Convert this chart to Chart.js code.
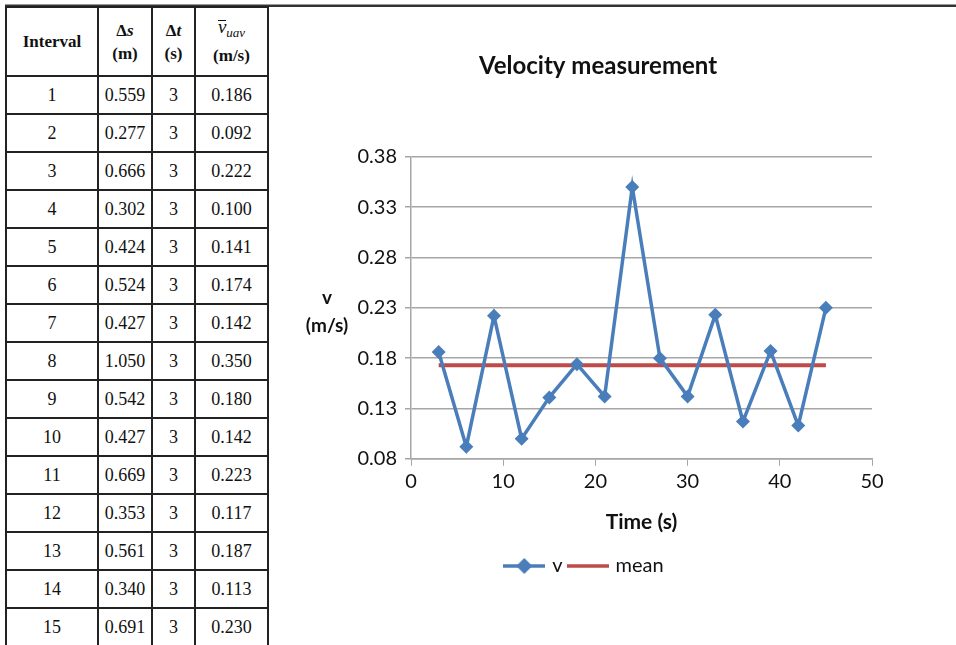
<!DOCTYPE html>
<html lang="en">
<head>
    <meta charset="utf-8">
    <title>Velocity measurement</title>
    <script src="https://cdn.jsdelivr.net/npm/chart.js@4.4.0/dist/chart.umd.min.js"></script>
    <style>
        body { margin: 0; background: #fff; width: 956px; height: 645px; overflow: hidden; position: relative; }
        #frame { position: absolute; left: 5px; top: 4px; width: 951px; height: 2px; background: #333; border-top: 1px solid #999; }
        table { position: absolute; left: 5px; top: 6px; border-collapse: collapse; font-family: "Liberation Serif", "Times New Roman", serif; }
        td, th { border: 2px solid #222; text-align: center; padding: 0; font-size: 18px; color: #111; }
        th { height: 67px; font-size: 17px; line-height: 23px; }
        td { height: 36px; }
        .c1 { width: 90px; } .c2 { width: 52px; } .c3 { width: 41px; } .c4 { width: 71px; }
        .bar { display: inline-block; border-top: 1.5px solid #111; line-height: 11px; font-size: 19px; font-style: italic; font-weight: normal; }
        sub { font-size: 13px; font-weight: normal; }
        #wrap { position: absolute; left: 270px; top: 8px; width: 660px; height: 630px; }
    </style>
</head>
<body>
    <div id="frame"></div>
    <table id="tbl">
        <tr>
            <th class="c1">Interval</th>
            <th class="c2">&Delta;<i>s</i><br>(m)</th>
            <th class="c3">&Delta;<i>t</i><br>(s)</th>
            <th class="c4"><span class="bar">v</span><sub><i>uav</i></sub><br>(m/s)</th>
        </tr>
    </table>
    <div id="wrap"><canvas id="chart" width="660" height="630"></canvas></div>
    <script>
        // table values
        const intervals = [1, 2, 3, 4, 5, 6, 7, 8, 9, 10, 11, 12, 13, 14, 15];
        const deltaS = ['0.559', '0.277', '0.666', '0.302', '0.424', '0.524', '0.427', '1.050', '0.542', '0.427', '0.669', '0.353', '0.561', '0.340', '0.691'];
        const deltaT = [3, 3, 3, 3, 3, 3, 3, 3, 3, 3, 3, 3, 3, 3, 3];
        const vAvg = ['0.186', '0.092', '0.222', '0.100', '0.141', '0.174', '0.142', '0.350', '0.180', '0.142', '0.223', '0.117', '0.187', '0.113', '0.230'];

        // chart values
        const times = [3, 6, 9, 12, 15, 18, 21, 24, 27, 30, 33, 36, 39, 42, 45];
        const velocities = [0.186, 0.092, 0.222, 0.100, 0.141, 0.174, 0.142, 0.350, 0.180, 0.142, 0.223, 0.117, 0.187, 0.113, 0.230];
        const meanTimes = [3, 45];
        const meanValues = [0.173, 0.173];

        const tbl = document.getElementById('tbl');
        for (let i = 0; i < intervals.length; i++) {
            const tr = document.createElement('tr');
            [intervals[i], deltaS[i], deltaT[i], vAvg[i]].forEach(function (v) {
                const td = document.createElement('td');
                td.textContent = v;
                tr.appendChild(td);
            });
            tbl.appendChild(tr);
        }

        const blue = '#4a7ebb';
        const red = '#be4b48';
        const font = 'Lato, "Open Sans", sans-serif';

        // legend symbols: line with diamond, plain line
        function legendIcon(color, diamond) {
            const c = document.createElement('canvas');
            c.width = 42; c.height = 16;
            const g = c.getContext('2d');
            g.strokeStyle = color; g.lineWidth = 3.5;
            g.beginPath(); g.moveTo(0, 8); g.lineTo(42, 8); g.stroke();
            if (diamond) {
                g.fillStyle = color;
                g.beginPath(); g.moveTo(21, 0); g.lineTo(29, 8); g.lineTo(21, 16); g.lineTo(13, 8); g.closePath(); g.fill();
            }
            return c;
        }
        const iconV = legendIcon(blue, true);
        const iconMean = legendIcon(red, false);

        const yTitle = {
            id: 'yTitle',
            afterLayout(chart) {
                // legend sits a bit left of the title in the original
                chart.legend.left -= 13;
                chart.legend.right -= 13;
            },
            afterDraw(chart) {
                const ctx = chart.ctx;
                ctx.save();
                ctx.font = 'bold 19px ' + font;
                ctx.fillStyle = '#111';
                ctx.textAlign = 'center';
                ctx.textBaseline = 'middle';
                ctx.fillText('v', 57, 290);
                ctx.fillText('(m/s)', 57, 318);
                ctx.restore();
            }
        };

        const ctx = document.getElementById('chart').getContext('2d');
        const myChart = new Chart(ctx, {
            type: 'line',
            data: {
                datasets: [{
                    label: 'v',
                    data: times.map((t, i) => ({ x: t, y: velocities[i] })),
                    borderColor: blue,
                    backgroundColor: blue,
                    borderWidth: 3.5,
                    pointStyle: 'rectRot',
                    pointRadius: 7,
                    pointBorderWidth: 0,
                    tension: 0
                }, {
                    label: 'mean',
                    data: meanTimes.map((t, i) => ({ x: t, y: meanValues[i] })),
                    borderColor: red,
                    backgroundColor: red,
                    borderWidth: 4,
                    pointRadius: 0,
                    tension: 0
                }]
            },
            options: {
                responsive: false,
                animation: false,
                layout: { padding: { left: 0, right: 4, top: 0, bottom: 52 } },
                plugins: {
                    tooltip: { enabled: false },
                    title: {
                        display: true,
                        text: 'Velocity measurement',
                        color: '#111',
                        font: { family: font, size: 24, weight: 'bold' },
                        padding: { top: 44, bottom: 76 }
                    },
                    legend: {
                        position: 'bottom',
                        labels: {
                            usePointStyle: true,
                            pointStyleWidth: 36,
                            color: '#111',
                            font: { family: font, size: 20 },
                            padding: 7,
                            generateLabels(chart) {
                                return chart.data.datasets.map((ds, i) => ({
                                    text: ds.label,
                                    pointStyle: i === 0 ? iconV : iconMean,
                                    fillStyle: ds.borderColor,
                                    strokeStyle: ds.borderColor,
                                    lineWidth: 0,
                                    datasetIndex: i,
                                    fontColor: '#111'
                                }));
                            }
                        }
                    }
                },
                scales: {
                    x: {
                        type: 'linear',
                        min: 0,
                        max: 50,
                        ticks: { stepSize: 10, color: '#111', font: { family: font, size: 20 }, padding: 4 },
                        grid: { drawOnChartArea: false, drawTicks: true, tickLength: 7, color: '#a6a6a6' },
                        border: { color: '#a6a6a6', width: 1.5 },
                        title: { display: true, text: 'Time (s)', color: '#111', font: { family: font, size: 21, weight: 'bold' }, padding: { top: 12, bottom: 14 } }
                    },
                    y: {
                        min: 0.08,
                        max: 0.38,
                        afterFit(scale) { scale.width = 141; },
                        ticks: {
                            stepSize: 0.05,
                            color: '#111',
                            padding: 8,
                            font: { family: font, size: 20 },
                            callback: v => v.toFixed(2)
                        },
                        grid: { color: '#a6a6a6', lineWidth: 1.5, tickLength: 6 },
                        border: { color: '#a6a6a6', width: 1.5 }
                    },
                    // empty right-hand space beside the plot
                    pad: {
                        position: 'right',
                        afterFit(scale) { scale.width = 54; },
                        ticks: { display: false },
                        grid: { display: false },
                        border: { display: false }
                    }
                }
            },
            plugins: [yTitle]
        });
    </script>
</body>
</html>
